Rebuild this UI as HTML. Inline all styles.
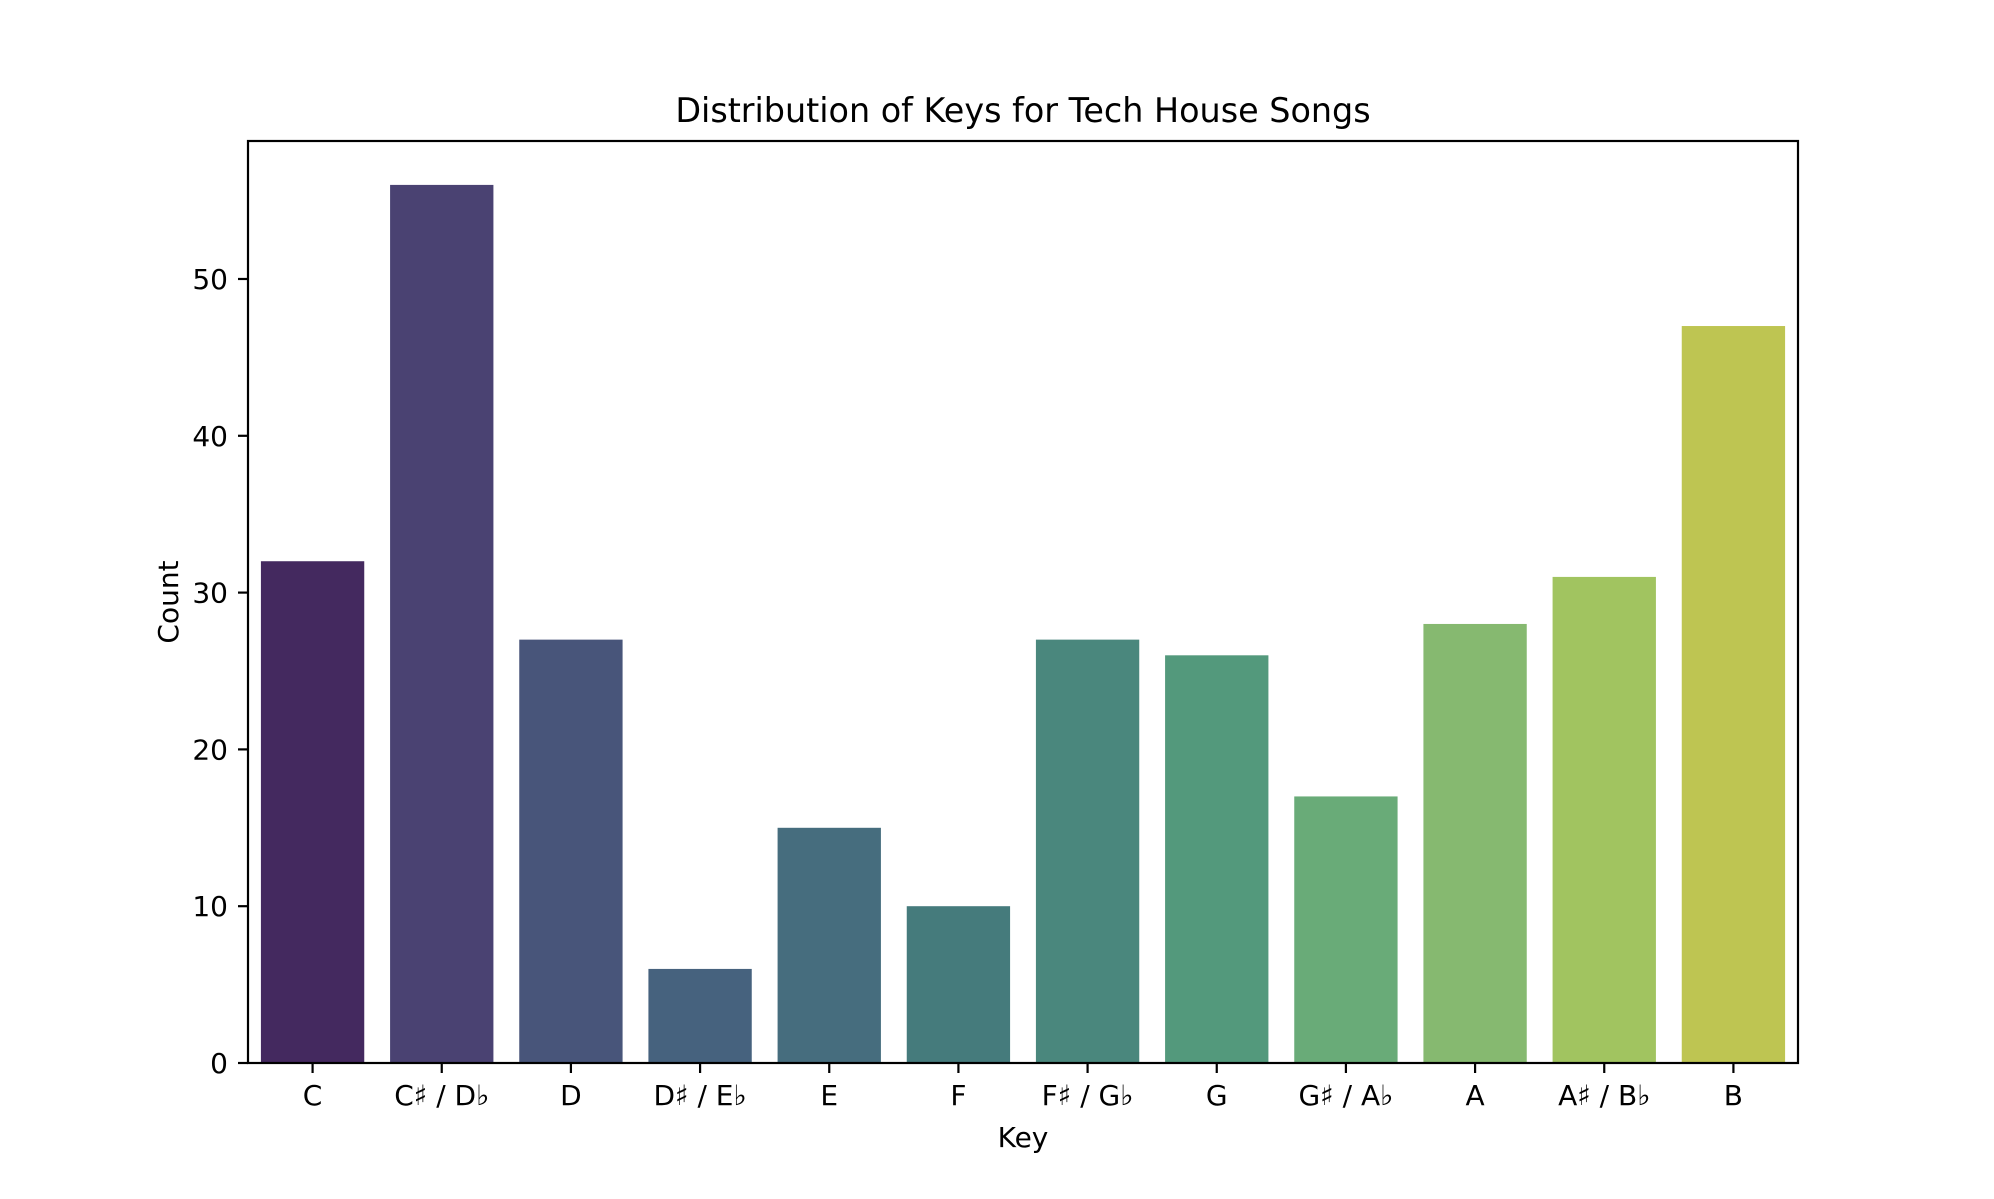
<!DOCTYPE html>
<html><head><meta charset="utf-8"><style>
body{margin:0;background:#fff;}
svg text{font-family:"DejaVu Sans","Liberation Sans",sans-serif;fill:#000;}
</style></head><body>
<svg id="chart" width="1994" height="1194" viewBox="0 0 1994 1194" xmlns="http://www.w3.org/2000/svg">
<rect width="1994" height="1194" fill="#fff"/>
<text x="1023" y="122" font-size="33.4" text-anchor="middle">Distribution of Keys for Tech House Songs</text>
<g id="bars"></g>
<g id="yticks"></g>
<g id="xticks"></g>
<rect x="248" y="141" width="1550" height="922" fill="none" stroke="#000" stroke-width="2.2"/>
<text x="1023" y="1147" font-size="28" text-anchor="middle">Key</text>
<text x="0" y="0" font-size="28" text-anchor="middle" transform="translate(178,602) rotate(-90)">Count</text>
</svg>
<script>
const categories=["C","C♯ / D♭","D","D♯ / E♭","E","F","F♯ / G♭","G","G♯ / A♭","A","A♯ / B♭","B"];
const counts=[32,56,27,6,15,10,27,26,17,28,31,47];
const yTicks=[0,10,20,30,40,50];
const colors=["#44295f","#4a4272","#48557a","#46627e","#466d7e","#457b7c","#4a877d","#53997c","#69ab78","#86b970","#a1c460","#bec552"];
const L=248,R=1798,T=141,B=1063;
const ymax=Math.max(...counts)*1.05;
const n=categories.length;
const xs=i=>L+(i+0.5)/n*(R-L);
const ys=v=>B-v/ymax*(B-T);
const bw=0.8*(R-L)/n;
const NS="http://www.w3.org/2000/svg";
const bars=document.getElementById('bars'),yt=document.getElementById('yticks'),xt=document.getElementById('xticks');
counts.forEach((v,i)=>{
 const r=document.createElementNS(NS,'rect');
 
 
 r.setAttribute('x',xs(i)-bw/2);r.setAttribute('y',ys(v));
 r.setAttribute('width',bw);r.setAttribute('height',B-ys(v));
 r.setAttribute('fill',colors[i]);
 bars.appendChild(r);
});
yTicks.forEach(t=>{
 const y=ys(t);
 const l=document.createElementNS(NS,'line');
 
 
 l.setAttribute('x1',L-10);l.setAttribute('x2',L);l.setAttribute('y1',y);l.setAttribute('y2',y);
 l.setAttribute('stroke','#000');l.setAttribute('stroke-width','2.2');
 yt.appendChild(l);
 const tx=document.createElementNS(NS,'text');
 
 
 tx.setAttribute('x',L-20);tx.setAttribute('y',y+10);tx.setAttribute('font-size','28');tx.setAttribute('text-anchor','end');
 tx.textContent=t;
 yt.appendChild(tx);
});
categories.forEach((c,i)=>{
 const x=xs(i);
 const l=document.createElementNS(NS,'line');
 
 
 l.setAttribute('x1',x);l.setAttribute('x2',x);l.setAttribute('y1',B);l.setAttribute('y2',B+10);
 l.setAttribute('stroke','#000');l.setAttribute('stroke-width','2.2');
 xt.appendChild(l);
 const tx=document.createElementNS(NS,'text');
 
 
 tx.setAttribute('x',x);tx.setAttribute('y',B+42);tx.setAttribute('font-size','28');tx.setAttribute('text-anchor','middle');
 tx.textContent=c;
 xt.appendChild(tx);
});
</script>
</body></html>
